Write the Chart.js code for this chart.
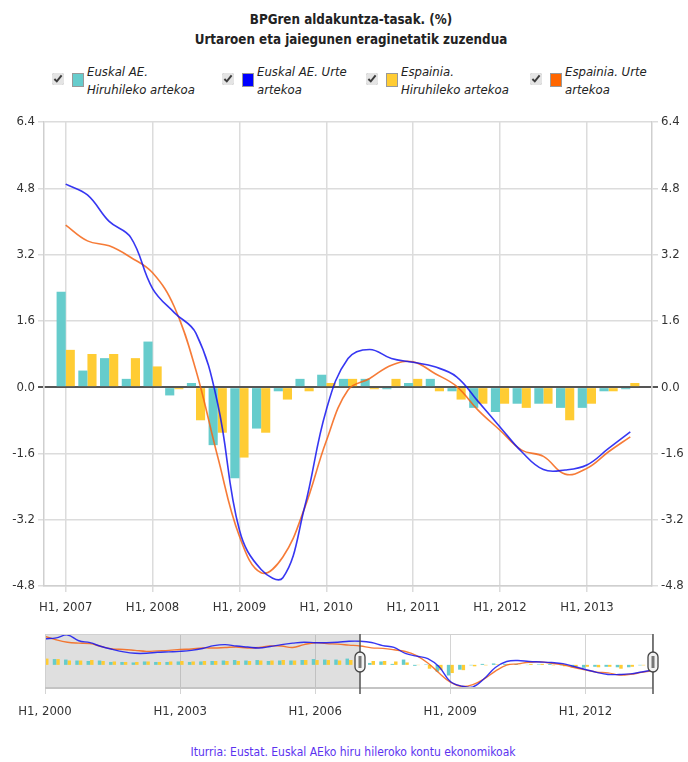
<!DOCTYPE html>
<html>
<head>
<meta charset="utf-8">
<script src="https://cdn.jsdelivr.net/npm/chart.js@4.4.1/dist/chart.umd.min.js"></script>
<style>
  body { margin: 0; width: 688px; height: 762px; position: relative; overflow: hidden; background: #fff;
         font-family: "DejaVu Sans Condensed", "DejaVu Sans", sans-serif; color: #222; }
  #title { position: absolute; top: 10px; left: 0; width: 702px; text-align: center;
           font-weight: bold; font-size: 13.3px; line-height: 20px; }
  .item { position: absolute; top: 62px; height: 40px; }
  .item input { position: absolute; left: 0; top: 11px; width: 12px; height: 12px; margin: 0; accent-color: #e4e4e4; }
  .item .sw { position: absolute; left: 20px; top: 11px; width: 10px; height: 12px; border: 1px solid #999; }
  .item .txt { position: absolute; left: 35px; top: 1px; width: 112px; font-style: italic; font-size: 13px; line-height: 18px; }
  #main { position: absolute; left: 0; top: 110px; }
  #nav { position: absolute; left: 0; top: 630px; }
  #source { position: absolute; top: 745px; left: 0; width: 706px; text-align: center; font-size: 12px; color: #5b33f0; }
</style>
</head>
<body>
<div id="title">BPGren aldakuntza-tasak. (%)<br>Urtaroen eta jaiegunen eraginetatik zuzendua</div>
<div id="legend"></div>
<canvas id="main" width="688" height="520"></canvas>
<canvas id="nav" width="688" height="100"></canvas>
<div id="source">Iturria: Eustat. Euskal AEko hiru hileroko kontu ekonomikoak</div>
<script>
const quarters = [
  "H1, 2000", "H2, 2000", "H3, 2000", "H4, 2000",
  "H1, 2001", "H2, 2001", "H3, 2001", "H4, 2001",
  "H1, 2002", "H2, 2002", "H3, 2002", "H4, 2002",
  "H1, 2003", "H2, 2003", "H3, 2003", "H4, 2003",
  "H1, 2004", "H2, 2004", "H3, 2004", "H4, 2004",
  "H1, 2005", "H2, 2005", "H3, 2005", "H4, 2005",
  "H1, 2006", "H2, 2006", "H3, 2006", "H4, 2006",
  "H1, 2007", "H2, 2007", "H3, 2007", "H4, 2007",
  "H1, 2008", "H2, 2008", "H3, 2008", "H4, 2008",
  "H1, 2009", "H2, 2009", "H3, 2009", "H4, 2009",
  "H1, 2010", "H2, 2010", "H3, 2010", "H4, 2010",
  "H1, 2011", "H2, 2011", "H3, 2011", "H4, 2011",
  "H1, 2012", "H2, 2012", "H3, 2012", "H4, 2012",
  "H1, 2013", "H2, 2013", "H3, 2013"
];

// Euskal AE. Hiruhileko artekoa
const euskalQuarter = [
  1.4, 1.2, 1.1, 0.9,  0.8, 0.9, 0.6, 0.6,  0.5, 0.7, 0.6, 0.6,  0.7, 0.6, 0.7, 0.8,
  0.9, 1.0, 0.9, 1.0,  0.8, 0.9, 0.9, 1.0,  1.2, 1.1, 1.1, 1.3,
  2.3, 0.4, 0.7, 0.2,  1.1, -0.2, 0.1, -1.4,  -2.2, -1.0, -0.1, 0.2,
  0.3, 0.2, 0.2, -0.05,  0.1, 0.2, -0.1, -0.5,  -0.6, -0.4, -0.4, -0.5,  -0.5, -0.1, -0.05
];
// Euskal AE. Urte artekoa
const euskalYear = [
  5.4, 5.6, 6.2, 5.0,  4.6, 3.8, 3.2, 2.7,  2.4, 2.4, 2.6, 2.7,  2.8, 3.0, 3.4, 4.0,
  4.2, 3.9, 3.7, 3.5,  3.8, 4.2, 4.5, 4.7,  4.6, 4.6, 4.7, 4.9,
  4.9, 4.64, 4.0, 3.61,  2.38, 1.8, 1.3, -0.4,  -3.45, -4.4, -4.6, -2.9,
  -0.55, 0.69, 0.91, 0.69,  0.6, 0.49, 0.25, -0.35,  -0.96, -1.56, -1.99, -2.0,  -1.88, -1.48, -1.08
];
// Espainia. Hiruhileko artekoa
const spainQuarter = [
  1.3, 1.2, 0.9, 0.9,  1.0, 0.8, 0.7, 0.6,  0.6, 0.7, 0.6, 0.7,  0.8, 0.7, 0.8, 0.8,
  0.8, 0.8, 0.8, 0.9,  0.9, 1.0, 0.9, 1.0,  1.0, 1.0, 0.9, 1.0,
  0.9, 0.8, 0.8, 0.7,  0.5, -0.05, -0.8, -1.1,  -1.7, -1.1, -0.3, -0.1,
  0.1, 0.2, -0.05, 0.2,  0.2, -0.1, -0.3, -0.4,  -0.4, -0.5, -0.4, -0.8,  -0.4, -0.1, 0.1
];
// Espainia. Urte artekoa
const spainYear = [
  5.9, 5.2, 4.7, 4.5,  4.4, 3.8, 3.3, 3.2,  3.0, 2.8, 2.9, 3.0,  3.2, 3.3, 3.5, 3.5,
  3.6, 3.7, 3.5, 3.6,  3.9, 3.9, 3.6, 4.2,  4.6, 4.4, 4.3, 4.1,
  3.91, 3.53, 3.41, 3.13,  2.76, 1.94, 0.4, -1.68,  -3.6, -4.48, -4.1, -2.92,
  -1.3, -0.07, 0.21, 0.53,  0.61, 0.33, 0.02, -0.56,  -1.04, -1.52, -1.67, -2.1,  -1.96, -1.56, -1.2
];

const seriesNames = ["Euskal AE. Hiruhileko artekoa", "Euskal AE. Urte artekoa",
                     "Espainia. Hiruhileko artekoa", "Espainia. Urte artekoa"];
const seriesColors = ["#66cccc", "#0000ff", "#ffcc33", "#ff6600"];

const yTicks = [-4.8, -3.2, -1.6, 0, 1.6, 3.2, 4.8, 6.4];
const mainTicks = [28, 32, 36, 40, 44, 48, 52];   // H1, 2007 ... H1, 2013
const navTicks = [0, 12, 24, 36, 48];             // H1, 2000 ... H1, 2012
const shownRange = [28, 54];                      // H1, 2007 .. H3, 2013

const FONT = "'DejaVu Sans Condensed', 'DejaVu Sans', sans-serif";

// legend (html)
const legendLeft = [52, 222, 366, 530];
const legend = document.getElementById("legend");
seriesNames.forEach((name, i) => {
  const item = document.createElement("div");
  item.className = "item";
  item.style.left = legendLeft[i] + "px";
  item.innerHTML = '<input type="checkbox" checked><span class="sw" style="background:' +
    seriesColors[i] + '"></span><span class="txt">' + name + "</span>";
  legend.appendChild(item);
});

function points(arr, from) {
  return arr.slice(from).map((v, i) => ({ x: from + i, y: v }));
}

function makeDatasets(from, thin) {
  return [
    { type: "bar", data: points(euskalQuarter, from), backgroundColor: seriesColors[0],
      categoryPercentage: thin ? 0.62 : 0.84, barPercentage: 1, order: 2 },
    { type: "bar", data: points(spainQuarter, from), backgroundColor: seriesColors[2],
      categoryPercentage: thin ? 0.62 : 0.84, barPercentage: 1, order: 2 },
    { type: "line", data: points(euskalYear, from), borderColor: "rgba(20,20,240,0.85)",
      borderWidth: thin ? 1.4 : 1.6, pointRadius: 0, tension: 0.4, order: 1 },
    { type: "line", data: points(spainYear, from), borderColor: "rgba(245,100,20,0.85)",
      borderWidth: thin ? 1.4 : 1.6, pointRadius: 0, tension: 0.4, order: 1 }
  ];
}

const yAxis = (position, width) => ({
  type: "linear",
  position: position,
  min: -4.8,
  max: 6.4,
  afterBuildTicks: (s) => { s.ticks = yTicks.map((v) => ({ value: v })); },
  afterFit: (s) => { s.width = width; },
  ticks: { callback: (v) => v.toFixed(1), color: "#333", font: { family: FONT, size: 13 }, padding: 3 },
  grid: {
    drawOnChartArea: position === "left",
    tickLength: 6,
    color: (c) => (c.tick && c.tick.value === 0 ? "#555" : "#dcdcdc"),
    lineWidth: (c) => (c.tick && c.tick.value === 0 ? 2 : 1.5)
  },
  border: { color: "#cfcfcf", width: 1.5 }
});

new Chart(document.getElementById("main"), {
  data: { datasets: makeDatasets(shownRange[0], false) },
  options: {
    responsive: false,
    animation: false,
    devicePixelRatio: 1,
    layout: { padding: { top: 12, left: 0, right: 0, bottom: 0 } },
    plugins: { legend: { display: false }, tooltip: { enabled: false } },
    scales: {
      x: {
        type: "linear",
        offset: false,
        min: shownRange[0] - 1,
        max: shownRange[1] + 1,
        afterBuildTicks: (s) => { s.ticks = mainTicks.map((v) => ({ value: v })); },
        afterFit: (s) => { s.height = 44; },
        ticks: { callback: (v) => quarters[v], color: "#333", font: { family: FONT, size: 13 },
                 padding: 8, maxRotation: 0, autoSkip: false },
        grid: { offset: false, color: "#dcdcdc", lineWidth: 1.5, tickLength: 6 },
        border: { color: "#cfcfcf", width: 1.5 }
      },
      y: yAxis("left", 44),
      y2: yAxis("right", 36)
    }
  }
});

const navOverlay = {
  id: "navOverlay",
  beforeDatasetsDraw(chart) {
    const { ctx, chartArea: a, scales: { x } } = chart;
    const x0 = x.getPixelForValue(shownRange[0]);
    ctx.save();
    ctx.fillStyle = "rgba(150,150,150,0.3)";
    ctx.fillRect(a.left, a.top, x0 - a.left, a.bottom - a.top);
    ctx.restore();
  },
  afterDatasetsDraw(chart) {
    const { ctx, chartArea: a, scales: { x } } = chart;
    ctx.save();
    ctx.strokeStyle = "#d0d0d0";
    ctx.lineWidth = 1;
    ctx.strokeRect(a.left + 0.5, a.top + 0.5, a.right - a.left - 1, a.bottom - a.top);
    ctx.strokeStyle = "#c4c4c4";
    ctx.lineWidth = 2;
    ctx.beginPath();
    ctx.moveTo(a.left, a.bottom);
    ctx.lineTo(a.right, a.bottom);
    ctx.stroke();
    const mid = (a.top + a.bottom) / 2 + 1;
    shownRange.forEach((v) => {
      const px = Math.round(x.getPixelForValue(v));
      ctx.strokeStyle = "#555";
      ctx.lineWidth = 1.5;
      ctx.beginPath();
      ctx.moveTo(px, a.top);
      ctx.lineTo(px, a.bottom + 6);
      ctx.stroke();
      ctx.beginPath();
      ctx.roundRect(px - 5, mid - 10, 10, 20, 5);
      ctx.fillStyle = "#f2f2f2";
      ctx.fill();
      ctx.strokeStyle = "#444";
      ctx.lineWidth = 1.3;
      ctx.stroke();
      ctx.fillStyle = "#777";
      ctx.fillRect(px - 1.5, mid - 6, 3, 12);
    });
    ctx.restore();
  }
};

new Chart(document.getElementById("nav"), {
  data: { datasets: makeDatasets(0, true) },
  options: {
    responsive: false,
    animation: false,
    devicePixelRatio: 1,
    layout: { padding: { top: 4, left: 45, right: 35, bottom: 0 } },
    plugins: { legend: { display: false }, tooltip: { enabled: false } },
    scales: {
      x: {
        type: "linear",
        offset: false,
        min: 0,
        max: shownRange[1],
        afterBuildTicks: (s) => { s.ticks = navTicks.map((v) => ({ value: v })); },
        afterFit: (s) => { s.height = 42; },
        ticks: { callback: (v) => quarters[v], color: "#333", font: { family: FONT, size: 13 },
                 padding: 10, maxRotation: 0, autoSkip: false },
        grid: { offset: false, color: "#d4d4d4", lineWidth: 1, tickLength: 6 },
        border: { display: false }
      },
      y: { display: false, min: -4.8, max: 6.4 }
    }
  },
  plugins: [navOverlay]
});
</script>
</body>
</html>
